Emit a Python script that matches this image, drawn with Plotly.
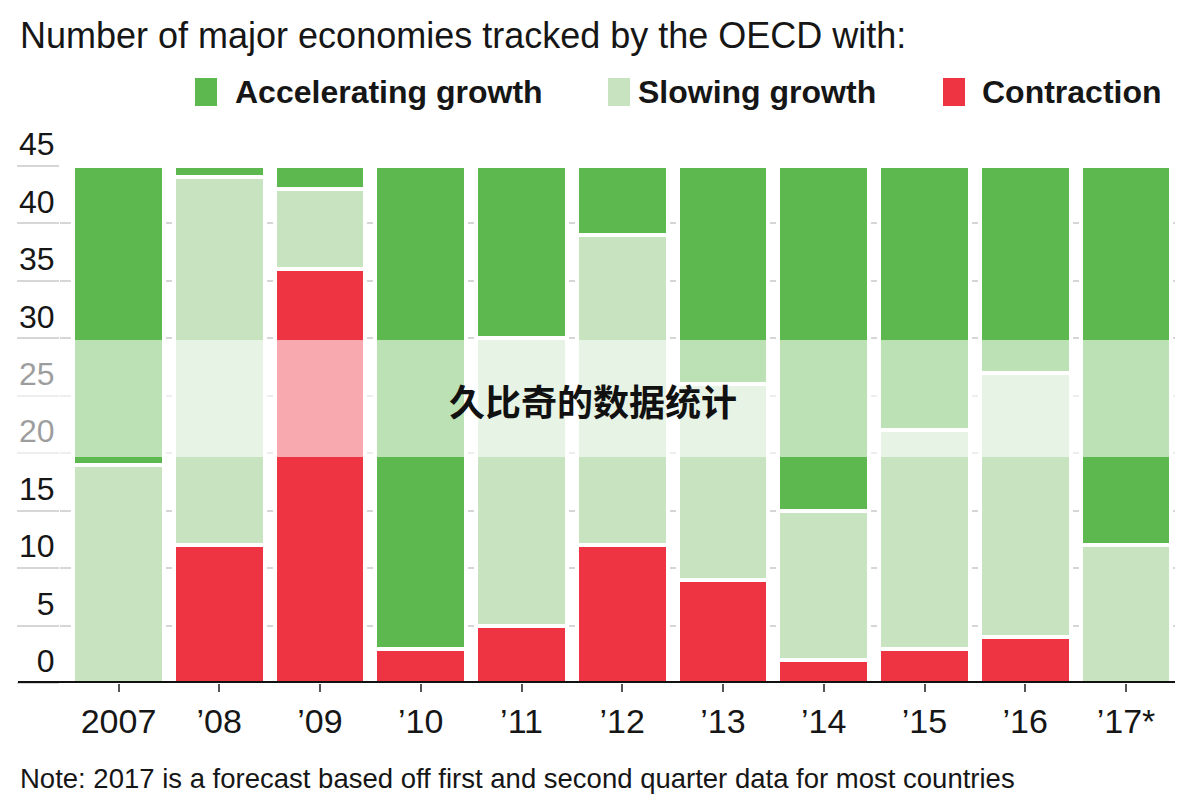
import plotly.graph_objects as go

# ---- data ----
years = ["2007", "’08", "’09", "’10", "’11", "’12", "’13", "’14", "’15", "’16", "’17*"]
contraction = [0, 12, 36, 3, 5, 12, 9, 2, 3, 4, 0]
slowing = [19, 32, 7, 0, 25, 27, 17, 13, 19, 23, 12]
accelerating = [26, 1, 2, 42, 15, 6, 19, 30, 23, 18, 33]
series_names = ["Accelerating growth", "Slowing growth", "Contraction"]
series_colors = ["#5DB84F", "#C7E3BF", "#EE3442"]
y_ticks = [0, 5, 10, 15, 20, 25, 30, 35, 40, 45]

title_text = "Number of major economies tracked by the OECD with:"
note_text = "Note: 2017 is a forecast based off first and second quarter data for most countries"
watermark = "久比奇的数据统计"

# ---- layout geometry (pixels) ----
W, H = 1184, 800
L, R, T, B = 60, 1175, 166, 683
FONT = "Liberation Sans, Arial, sans-serif"
INK = "#161616"


def px(x):
    return (x - L) / (R - L)


def py(y):
    return (B - y) / (B - T)


xs = list(range(len(years)))
slot = 100.75
x0 = -(118.5 - L) / slot
x1 = x0 + (R - L) / slot

fig = go.Figure()
stack = [("Contraction", contraction, series_colors[2]),
         ("Slowing growth", slowing, series_colors[1]),
         ("Accelerating growth", accelerating, series_colors[0])]
for name, vals, col in stack:
    fig.add_trace(go.Bar(
        x=xs, y=vals, name=name, width=0.903,
        marker=dict(color=col, line=dict(color="white", width=4)),
        showlegend=False, hoverinfo="skip"))

shapes = []
annotations = []

# baseline
shapes.append(dict(type="line", xref="paper", yref="y", x0=px(18), x1=1, y0=0, y1=0,
                   line=dict(color="#111111", width=4), layer="above"))

# legend (drawn manually)
legend_sq = [(195, 217), (608, 630), (943, 965)]
legend_tx = [233, 636, 980]
for name, col, (a, b), tx in zip(series_names, series_colors, legend_sq, legend_tx):
    shapes.append(dict(type="rect", xref="paper", yref="paper",
                       x0=px(a), x1=px(b), y0=py(106), y1=py(78),
                       fillcolor=col, line=dict(width=0)))
    annotations.append(dict(text="<b>%s</b>" % name, xref="paper", yref="paper",
                            x=px(tx), y=py(92), xanchor="left", yanchor="middle",
                            showarrow=False, font=dict(family=FONT, size=32, color=INK)))

# title
annotations.append(dict(text=title_text, xref="paper", yref="paper", x=px(18), y=py(35),
                        xanchor="left", yanchor="middle", showarrow=False,
                        font=dict(family=FONT, size=36, color=INK)))
# note
annotations.append(dict(text=note_text, xref="paper", yref="paper", x=px(18), y=py(778),
                        xanchor="left", yanchor="middle", showarrow=False,
                        font=dict(family=FONT, size=27.5, color=INK)))

# watermark band + text
shapes.append(dict(type="rect", xref="paper", yref="paper", x0=px(0), x1=px(W),
                   y0=py(457), y1=py(340), fillcolor="rgba(255,255,255,0.58)",
                   line=dict(width=0), layer="above"))
annotations.append(dict(text="<b>%s</b>" % watermark, xref="paper", yref="paper",
                        x=px(593), y=py(400), xanchor="center", yanchor="middle",
                        showarrow=False,
                        font=dict(family="Noto Sans CJK SC", size=36, color="#111111")))

fig.update_layout(
    width=W, height=H,
    margin=dict(l=L, r=W - R, t=T, b=H - B, pad=0),
    paper_bgcolor="white", plot_bgcolor="white",
    barmode="stack", bargap=0,
    shapes=shapes, annotations=annotations,
    xaxis=dict(range=[x0, x1], tickmode="array", tickvals=xs, ticktext=years,
               showgrid=False, zeroline=False, showline=False,
               ticks="outside", ticklen=8, tickwidth=2, tickcolor="#555555",
               tickfont=dict(family=FONT, size=34, color=INK)),
    yaxis=dict(range=[0, 45], tickmode="array", tickvals=y_ticks,
               showgrid=True, gridcolor="#d6d6d6", gridwidth=2,
               zeroline=False, showline=False,
               ticks="outside", ticklen=42, tickwidth=2, tickcolor="#d6d6d6",
               ticklabelstandoff=-44, ticklabelshift=-22,
               tickfont=dict(family=FONT, size=32, color=INK)),
)

fig.write_html("out.html")
